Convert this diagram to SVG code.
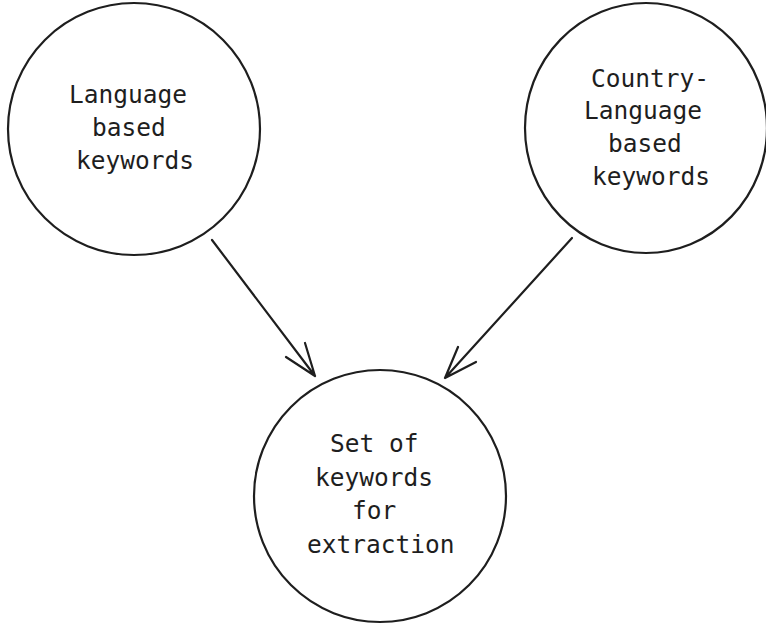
<svg xmlns="http://www.w3.org/2000/svg" width="766" height="624" viewBox="0 0 766 624">
<style>
.node{fill:#ffffff;stroke:#1e1e1e;stroke-width:2.2}
.lbl{font-family:"DejaVu Sans Mono","Liberation Mono",monospace;font-size:24.5px;fill:#1e1e1e}
.edge{fill:none;stroke:#1e1e1e;stroke-width:2.2;stroke-linecap:round;stroke-linejoin:round}
</style>
<rect width="766" height="624" fill="#ffffff"/>
<g id="node-language">
<ellipse class="node" cx="134" cy="129" rx="126" ry="126"/>
<text class="lbl" x="69" y="103">Language</text>
<text class="lbl" x="92" y="136">based</text>
<text class="lbl" x="76" y="169">keywords</text>
</g>
<g id="node-country-language">
<ellipse class="node" cx="646" cy="128" rx="121" ry="125"/>
<text class="lbl" x="591" y="87">Country-</text>
<text class="lbl" x="584" y="119">Language</text>
<text class="lbl" x="608" y="152">based</text>
<text class="lbl" x="592" y="185">keywords</text>
</g>
<g id="node-set">
<ellipse class="node" cx="380" cy="496" rx="126" ry="126"/>
<text class="lbl" x="330" y="452">Set of</text>
<text class="lbl" x="315" y="486">keywords</text>
<text class="lbl" x="352" y="519">for</text>
<text class="lbl" x="307" y="553">extraction</text>
</g>
<g id="connectors">
<path class="edge" d="M212 240 L315 376 M286 357 L315 376 L305 343"/>
<path class="edge" d="M572 238 L445 378 M458 347 L445 378 L476 362"/>
</g>
</svg>
